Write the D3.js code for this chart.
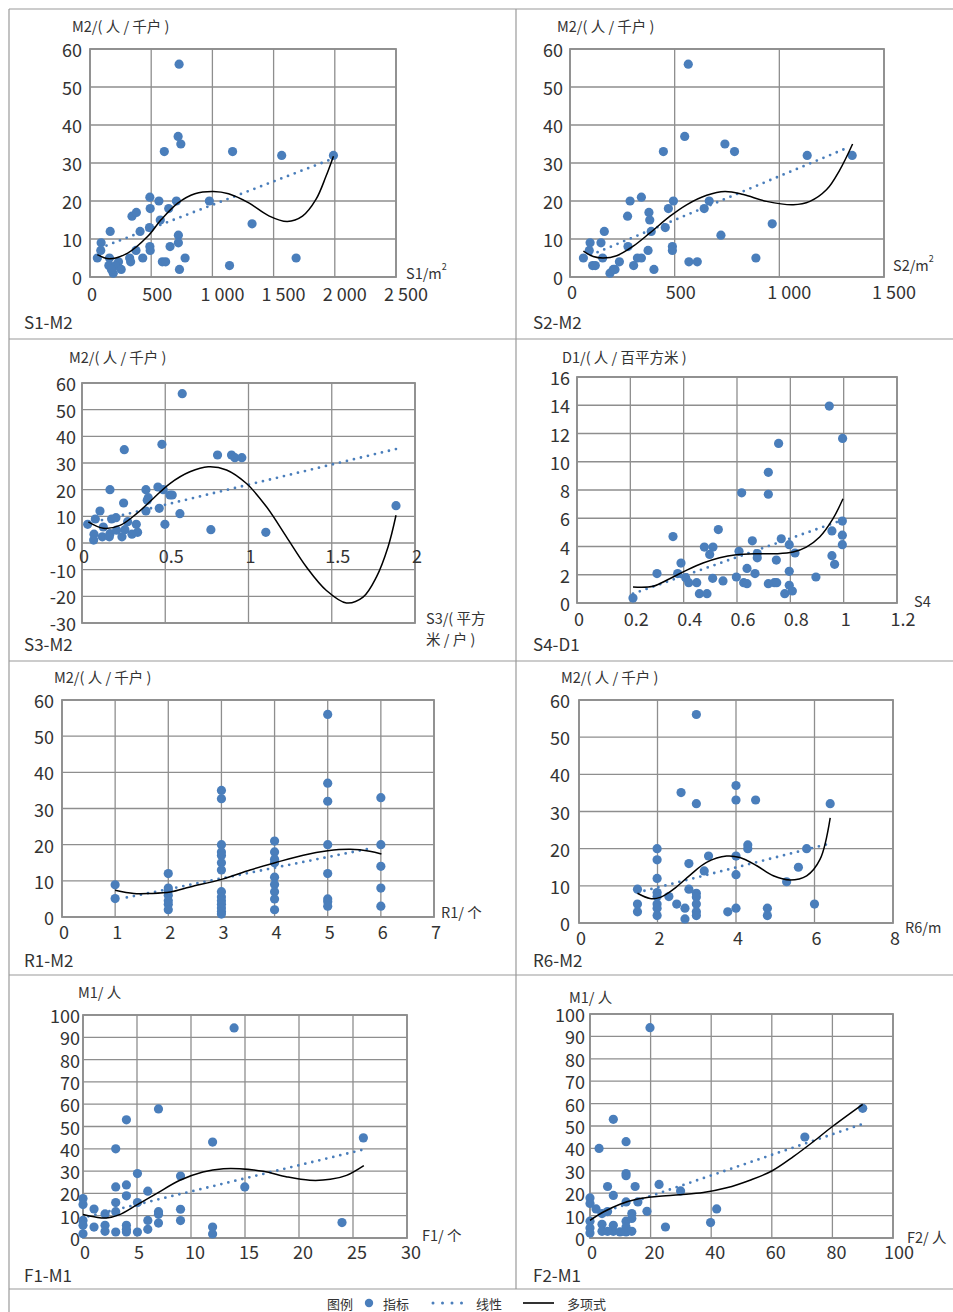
<!DOCTYPE html>
<html><head><meta charset="utf-8">
<script src="https://cdn.jsdelivr.net/npm/d3@7"></script>
<style>
body{margin:0;background:#fff}
svg{display:block}
text{font-family:"Noto Sans CJK SC","Noto Sans",sans-serif;fill:#333}
</style>
</head><body>
<svg id="c" width="953" height="1312"></svg>
<script>
// ---------- DATA ----------
const s1m2Points = [[728,56],[720,37],[742,35],[607,33],[1165,33],[1566,32],[1989,32],[489,21],[563,20],[706,20],[975,20],[492,18],[643,18],[343,16],[379,17],[574,15],[1324,14],[486,13],[165,12],[409,12],[722,11],[91,9],[722,9],[88,7],[489,8],[492,7],[376,7],[654,8],[60,5],[159,5],[324,5],[431,5],[777,5],[1684,5],[591,4],[618,4],[233,4],[332,4],[154,3],[1140,3],[209,3],[255,2],[731,2],[190,1],[175,2]];
const s1m2Linear = [[80,7.6],[1989,31.2]];
const s1m2Poly = [[60,5.9],[157,4.8],[308,6.3],[472,10.7],[582,15.1],[720,19.5],[857,21.9],[1008,22.5],[1132,21.9],[1297,19.5],[1461,16.1],[1612,14.6],[1736,16.0],[1846,20.4],[1928,26.5],[1989,31.8]];

const s2m2Points = [[565,56],[548,37],[740,35],[786,33],[446,33],[1133,32],[1348,32],[341,21],[287,20],[494,20],[665,20],[641,18],[470,18],[275,16],[377,17],[381,15],[966,14],[455,13],[164,12],[388,12],[721,11],[96,9],[148,9],[92,7],[277,8],[489,8],[489,7],[373,7],[64,5],[156,5],[322,5],[341,5],[888,5],[568,4],[608,4],[236,4],[108,3],[121,3],[304,3],[207,2],[401,2],[191,1],[215,2]];
const s2m2Linear = [[100,5.8],[1321,33.9]];
const s2m2Poly = [[64,6.8],[111,5.4],[159,5.0],[223,5.6],[302,8.1],[382,11.6],[478,16.0],[557,19.0],[653,21.5],[740,22.5],[828,21.7],[939,19.9],[1067,19.0],[1146,19.9],[1226,23.0],[1289,28.2],[1350,35.0]];

const s3m2Points = [[0.602,56],[0.48,37],[0.254,35],[0.814,33],[0.898,33],[0.918,32],[0.96,32],[0.384,20],[0.168,20],[0.456,21],[0.488,20],[0.528,18],[0.542,18],[0.398,17],[0.392,16],[0.25,15],[0.464,13],[0.384,12],[0.108,12],[0.588,11],[1.886,14],[0.08,9],[0.178,9],[0.204,9.5],[0.274,8],[0.034,7],[0.498,7],[0.326,7],[0.128,6],[0.258,5],[0.774,5],[0.334,4],[1.104,4],[0.072,3.3],[0.168,3.5],[0.3,3.3],[0.122,2.3],[0.24,2.3],[0.164,2.3],[0.07,1.1],[0.208,4.8]];
const s3m2Linear = [[0.12,8.6],[1.89,35.3]];
const s3m2Poly = [[0.038,7.9],[0.128,5.5],[0.228,6.6],[0.328,11.0],[0.428,16.7],[0.528,22.3],[0.648,26.7],[0.758,28.6],[0.868,27.4],[0.988,22.3],[1.108,13.6],[1.228,2.3],[1.348,-9.0],[1.468,-17.8],[1.588,-22.5],[1.688,-20.3],[1.768,-12.8],[1.838,-1.5],[1.886,10.4]];

const s4d1Points = [[0.946,13.94],[0.996,11.65],[0.756,11.3],[0.7175,9.25],[0.7175,7.7],[0.6175,7.8],[0.995,5.8],[0.53,5.2],[0.956,5.1],[0.995,4.8],[0.36,4.7],[0.6575,4.4],[0.766,4.55],[0.4775,3.96],[0.51,3.96],[0.796,4.13],[0.995,4.13],[0.4975,3.44],[0.6075,3.66],[0.676,3.5],[0.676,3.2],[0.8175,3.54],[0.956,3.35],[0.7475,3.04],[0.39,2.83],[0.966,2.74],[0.6375,2.45],[0.796,2.24],[0.3,2.08],[0.3775,2.08],[0.6675,2.08],[0.896,1.84],[0.4075,1.79],[0.50875,1.75],[0.5475,1.56],[0.5975,1.84],[0.419,1.44],[0.449,1.44],[0.625,1.44],[0.6375,1.37],[0.7175,1.37],[0.74,1.44],[0.749,1.44],[0.796,1.25],[0.459,0.66],[0.4875,0.66],[0.779,0.66],[0.8075,0.85],[0.21,0.35]];
const s4d1Linear = [[0.21,0.66],[0.985,5.8]];
const s4d1Poly = [[0.21,1.13],[0.285,1.18],[0.3475,1.72],[0.41,2.31],[0.4725,2.83],[0.535,3.21],[0.5975,3.42],[0.6725,3.49],[0.7475,3.49],[0.81,3.61],[0.86,3.96],[0.91,4.67],[0.96,5.97],[0.9975,7.38]];

const r1m2Points = [[1,8.9],[1,5.1],
 [2,12],[2,8],[2,7.3],[2,6],[2,4.5],[2,3.5],[2,2],
 [3,35],[3,32.7],[3,20],[3,18],[3,17],[3,15],[3,13],[3,7],[3,5.5],[3,4.5],[3,3.5],[3,2.5],[3,1.5],[3,0.8],
 [4,21],[4,18],[4,16],[4,15],[4,11],[4,9],[4,7],[4,5],[4,2],
 [5,56],[5,37],[5,32],[5,20],[5,12],[5,5],[5,4.2],[5,3],
 [6,33],[6,20],[6,14],[6,8],[6,3]];
const r1m2Linear = [[1.22,5.4],[5.82,19.0]];
const r1m2Poly = [[1.0,7.4],[1.35,6.5],[1.66,6.5],[2.04,6.9],[2.41,8.3],[3.0,10.4],[3.54,13.0],[4.01,15.0],[4.54,17.1],[5.0,18.3],[5.42,18.7],[5.79,18.2],[6.01,17.4]];

const r6m2Points = [[2.99,56.1],[2.6,35.1],[2.99,32.1],[4.0,37],[4.0,33.1],[4.5,33.1],[6.4,32.1],[1.99,20],[1.99,17],[1.99,12],[1.99,8.2],[1.99,7.1],[1.99,5.1],[1.99,4],[1.99,2],[4.3,21],[4.3,20],[5.8,20],[3.3,18],[4.0,18],[2.8,16],[5.59,15],[3.19,14],[4.0,13],[5.29,11.1],[1.49,9.1],[2.8,9.1],[2.29,7.1],[2.99,8],[2.99,7],[1.49,5.1],[2.49,5.1],[2.99,5.1],[6.0,5.1],[1.49,3],[2.7,4],[2.99,3],[2.99,2],[3.79,3],[4.0,4],[4.8,4],[4.8,2],[2.7,1.1]];
const r6m2Linear = [[1.49,8.2],[6.4,21.4]];
const r6m2Poly = [[1.49,8.0],[1.81,6.6],[2.07,6.9],[2.41,9.1],[2.83,12.9],[3.25,16.3],[3.76,18.0],[4.1,17.6],[4.53,15.4],[4.95,12.7],[5.37,11.6],[5.8,12.7],[6.14,17.1],[6.4,28.3]];

const f1m1Points = [[13.99,94.2],[6.99,57.9],[4.02,53],[3.03,40],[12,43],[25.96,44.9],[5.04,28.9],[9.03,27.8],[14.98,22.9],[3.03,22.9],[4.02,23.8],[6,21],[4.02,18.9],[0,17.7],[0,15],[3.03,15.9],[5.04,15.9],[1.02,13],[2.04,10.8],[3.03,11.8],[6.99,11.8],[6.99,10.6],[9.03,12.9],[0,7.9],[0,5.7],[1.02,4.9],[2.04,5.7],[2.04,3],[3.03,2.7],[4.02,5.7],[4.02,2.7],[5.04,2.7],[6,7.9],[6,3.9],[6.99,6.7],[9.03,7.8],[12,4.9],[12,1.8],[23.98,6.9],[0,1.9],[4.02,3.9]];
const f1m1Linear = [[0.5,9.7],[26,39.7]];
const f1m1Poly = [[0,10.5],[1.24,9.3],[2.17,9.0],[3.4,10.5],[4.95,14.7],[6.8,19.9],[8.97,25.9],[11.1,29.6],[13.0,31.1],[14.5,31.1],[16.7,29.9],[18.9,27.4],[21.0,25.9],[22.9,26.3],[24.4,28.1],[26.0,32.5]];

const f2m1Points = [[19.8,93.9],[90,57.9],[7.7,53],[11.9,43],[3,40],[70.9,45.1],[11.9,28.8],[11.9,27.8],[22.8,23.9],[14.9,23],[5.8,23],[29.9,21],[7.7,19],[0,17.9],[0,15.4],[11.9,16.1],[15.8,16.1],[2,13],[5.8,11.8],[3.96,10.9],[13.8,10.9],[41.8,13],[18.8,11.9],[0,7.5],[0,4.5],[0,2.2],[3.96,6.1],[3.96,3],[7.7,5.7],[7.7,3],[11.9,7.5],[11.9,4.9],[13.8,8.7],[11.9,2.7],[13.8,3],[9.9,2.7],[24.9,4.9],[39.8,6.9],[5.8,3]];
const f2m1Linear = [[3.85,11.3],[90,50.9]];
const f2m1Poly = [[0,7.9],[4.4,11.6],[9.9,15.1],[15.4,17.3],[22.0,18.5],[29.7,19.3],[37.4,20.3],[45.1,22.4],[52.8,25.8],[60,29.9],[67.1,36.3],[73.7,43.0],[80.3,50.1],[90,59.7]];

// tick values and labels
const s1Ticks = [0,500,1000,1500,2000,2500];
const s1TickLabels = ["0","500","1 000","1 500","2 000","2 500"];
const s2Ticks = [0,500,1000,1500];
const s2TickLabels = ["0","500","1 000","1 500"];
const s3Ticks = [0,0.5,1,1.5,2];
const s3TickLabels = ["0","0.5","1","1.5","2"];
const s4Ticks = [0,0.2,0.4,0.6,0.8,1,1.2];
const s4TickLabels = ["0","0.2","0.4","0.6","0.8","1","1.2"];
const r1Ticks = [0,1,2,3,4,5,6,7];
const r6Ticks = [0,2,4,6,8];
const f1Ticks = [0,5,10,15,20,25,30];
const f2Ticks = [0,20,40,60,80,100];
const m2Ticks = [0,10,20,30,40,50,60];
const m2NegTicks = [-30,-20,-10,0,10,20,30,40,50,60];
const d1Ticks = [0,2,4,6,8,10,12,14,16];
const m1Ticks = [0,10,20,30,40,50,60,70,80,90,100];

const panelTitles = ["S1-M2","S2-M2","S3-M2","S4-D1","R1-M2","R6-M2","F1-M1","F2-M1"];
const yTitles = ["M2/( 人 / 千户 )","M2/( 人 / 千户 )","M2/( 人 / 千户 )","D1/( 人 / 百平方米 )","M2/( 人 / 千户 )","M2/( 人 / 千户 )","M1/ 人","M1/ 人"];
const xTitles = [["S1/m","2"],["S2/m","2"],["S3/( 平方","米 / 户 )"],["S4"],["R1/ 个"],["R6/m"],["F1/ 个"],["F2/ 人"]];
const legendLabels = ["图例","指标","线性","多项式"];

// ---------- LAYOUT ----------
const C = {grid:"#8e8e8e", dot:"#4a7ebb", poly:"#000", frame:"#9a9a9a"};
const panels = [
 {pts:s1m2Points,lin:s1m2Linear,poly:s1m2Poly,xt:s1Ticks,xl:s1TickLabels,yt:m2Ticks,box:[90,396,49,277],tp:[24,321],yp:[72,25],xp:[[406,272]],xlY:293,ylR:82,sup:true},
 {pts:s2m2Points,lin:s2m2Linear,poly:s2m2Poly,xt:s2Ticks,xl:s2TickLabels,yt:m2Ticks,box:[570,884,49,277],tp:[533,321],yp:[557,25],xp:[[893,264]],xlY:291,ylR:563,sup:true},
 {pts:s3m2Points,lin:s3m2Linear,poly:s3m2Poly,xt:s3Ticks,xl:s3TickLabels,yt:m2NegTicks,box:[82,415,383,623],tp:[24,643],yp:[69,356],xp:[[426,617],[426,638]],xlY:555,ylR:76},
 {pts:s4d1Points,lin:s4d1Linear,poly:s4d1Poly,xt:s4Ticks,xl:s4TickLabels,yt:d1Ticks,box:[577,897,377,603],tp:[533,643],yp:[562,356],xp:[[914,600]],xlY:618,ylR:570},
 {pts:r1m2Points,lin:r1m2Linear,poly:r1m2Poly,xt:r1Ticks,xl:r1Ticks.map(String),yt:m2Ticks,box:[62,434,700,917],tp:[24,959],yp:[54,676],xp:[[441,911]],xlY:931,ylR:54},
 {pts:r6m2Points,lin:r6m2Linear,poly:r6m2Poly,xt:r6Ticks,xl:r6Ticks.map(String),yt:m2Ticks,box:[579,893,700,923],tp:[533,959],yp:[561,676],xp:[[905,926]],xlY:937,ylR:570},
 {pts:f1m1Points,lin:f1m1Linear,poly:f1m1Poly,xt:f1Ticks,xl:f1Ticks.map(String),yt:m1Ticks,box:[83,407,1015,1238],tp:[24,1274],yp:[78,991],xp:[[422,1234]],xlY:1251,ylR:80},
 {pts:f2m1Points,lin:f2m1Linear,poly:f2m1Poly,xt:f2Ticks,xl:f2Ticks.map(String),yt:m1Ticks,box:[590,893,1014,1238],tp:[533,1274],yp:[569,996],xp:[[907,1236]],xlY:1251,ylR:585}
];

const svg = d3.select("#c");

// frame lines
const hLines = [9,339,661,975,1289];
svg.selectAll(".hl").data(hLines).join("line").attr("x1",9).attr("x2",953).attr("y1",d=>d).attr("y2",d=>d).attr("stroke",C.frame).attr("stroke-width",1.2);
svg.append("line").attr("x1",9).attr("x2",9).attr("y1",9).attr("y2",1312).attr("stroke",C.frame).attr("stroke-width",1.2);
svg.append("line").attr("x1",516).attr("x2",516).attr("y1",9).attr("y2",1289).attr("stroke",C.frame).attr("stroke-width",1.2);

panels.forEach((p,i)=>{
  const g = svg.append("g");
  const [x0,x1,y0,y1] = p.box;
  const x = d3.scaleLinear().domain(d3.extent(p.xt)).range([x0,x1]);
  const y = d3.scaleLinear().domain(d3.extent(p.yt)).range([y1,y0]);
  g.selectAll(".vg").data(p.xt).join("line").attr("x1",d=>x(d)).attr("x2",d=>x(d)).attr("y1",y0).attr("y2",y1).attr("stroke",C.grid).attr("stroke-width",1.3);
  g.selectAll(".hg").data(p.yt).join("line").attr("x1",x0).attr("x2",x1).attr("y1",d=>y(d)).attr("y2",d=>y(d)).attr("stroke",C.grid).attr("stroke-width",1.3);
  g.append("rect").attr("x",x0).attr("y",y0).attr("width",x1-x0).attr("height",y1-y0).attr("fill","none").attr("stroke",C.grid).attr("stroke-width",1.8);
  // tick labels
  g.selectAll(".xl").data(p.xt).join("text").attr("x",(d,j)=>x(d)+2+2*(p.xl[j].length-1)).attr("y",p.xlY).attr("text-anchor","middle").attr("dominant-baseline","central").attr("font-size",18).text((d,j)=>p.xl[j]);
  g.selectAll(".yl").data(p.yt).join("text").attr("x",p.ylR).attr("y",d=>y(d)).attr("text-anchor","end").attr("dominant-baseline","central").attr("font-size",18).text(d=>d);
  // points
  g.selectAll("circle").data(p.pts).join("circle").attr("cx",d=>x(d[0])).attr("cy",d=>y(d[1])).attr("r",4.6).attr("fill",C.dot);
  // linear trend (dotted)
  g.append("path").attr("d",d3.line().x(d=>x(d[0])).y(d=>y(d[1]))(p.lin)).attr("fill","none").attr("stroke",C.dot).attr("stroke-width",2.8).attr("stroke-linecap","round").attr("stroke-dasharray","0 7.2");
  // polynomial trend
  g.append("path").attr("d",d3.line().curve(d3.curveCatmullRom.alpha(0.5)).x(d=>x(d[0])).y(d=>y(d[1]))(p.poly)).attr("fill","none").attr("stroke",C.poly).attr("stroke-width",1.5);
  // titles
  g.append("text").attr("x",p.tp[0]).attr("y",p.tp[1]).attr("dominant-baseline","central").attr("font-size",17).attr("fill","#222").text(panelTitles[i]);
  g.append("text").attr("x",p.yp[0]).attr("y",p.yp[1]).attr("dominant-baseline","central").attr("font-size",14.5).text(yTitles[i]);
  if(p.sup){
    const t = g.append("text").attr("x",p.xp[0][0]).attr("y",p.xp[0][1]).attr("dominant-baseline","central").attr("font-size",14.5);
    t.append("tspan").text(xTitles[i][0]);
    t.append("tspan").attr("font-size",9).attr("dy",-6).text(xTitles[i][1]);
  } else {
    p.xp.forEach((pos,k)=>{
      g.append("text").attr("x",pos[0]).attr("y",pos[1]).attr("dominant-baseline","central").attr("font-size",14.5).text(xTitles[i][k]);
    });
  }
});

// legend
const lg = svg.append("g").attr("font-size",13);
const ly = 1303;
lg.append("text").attr("x",327).attr("y",ly).attr("dominant-baseline","central").attr("font-size",13).text(legendLabels[0]);
lg.append("circle").attr("cx",369).attr("cy",ly).attr("r",4.2).attr("fill",C.dot);
lg.append("text").attr("x",383).attr("y",ly).attr("dominant-baseline","central").attr("font-size",13).text(legendLabels[1]);
lg.append("line").attr("x1",433).attr("x2",462).attr("y1",ly).attr("y2",ly).attr("stroke",C.dot).attr("stroke-width",3).attr("stroke-linecap","round").attr("stroke-dasharray","0 9.5");
lg.append("text").attr("x",476).attr("y",ly).attr("dominant-baseline","central").attr("font-size",13).text(legendLabels[2]);
lg.append("line").attr("x1",523).attr("x2",554).attr("y1",ly).attr("y2",ly).attr("stroke","#000").attr("stroke-width",1.6);
lg.append("text").attr("x",567).attr("y",ly).attr("dominant-baseline","central").attr("font-size",13).text(legendLabels[3]);
</script>
</body></html>
